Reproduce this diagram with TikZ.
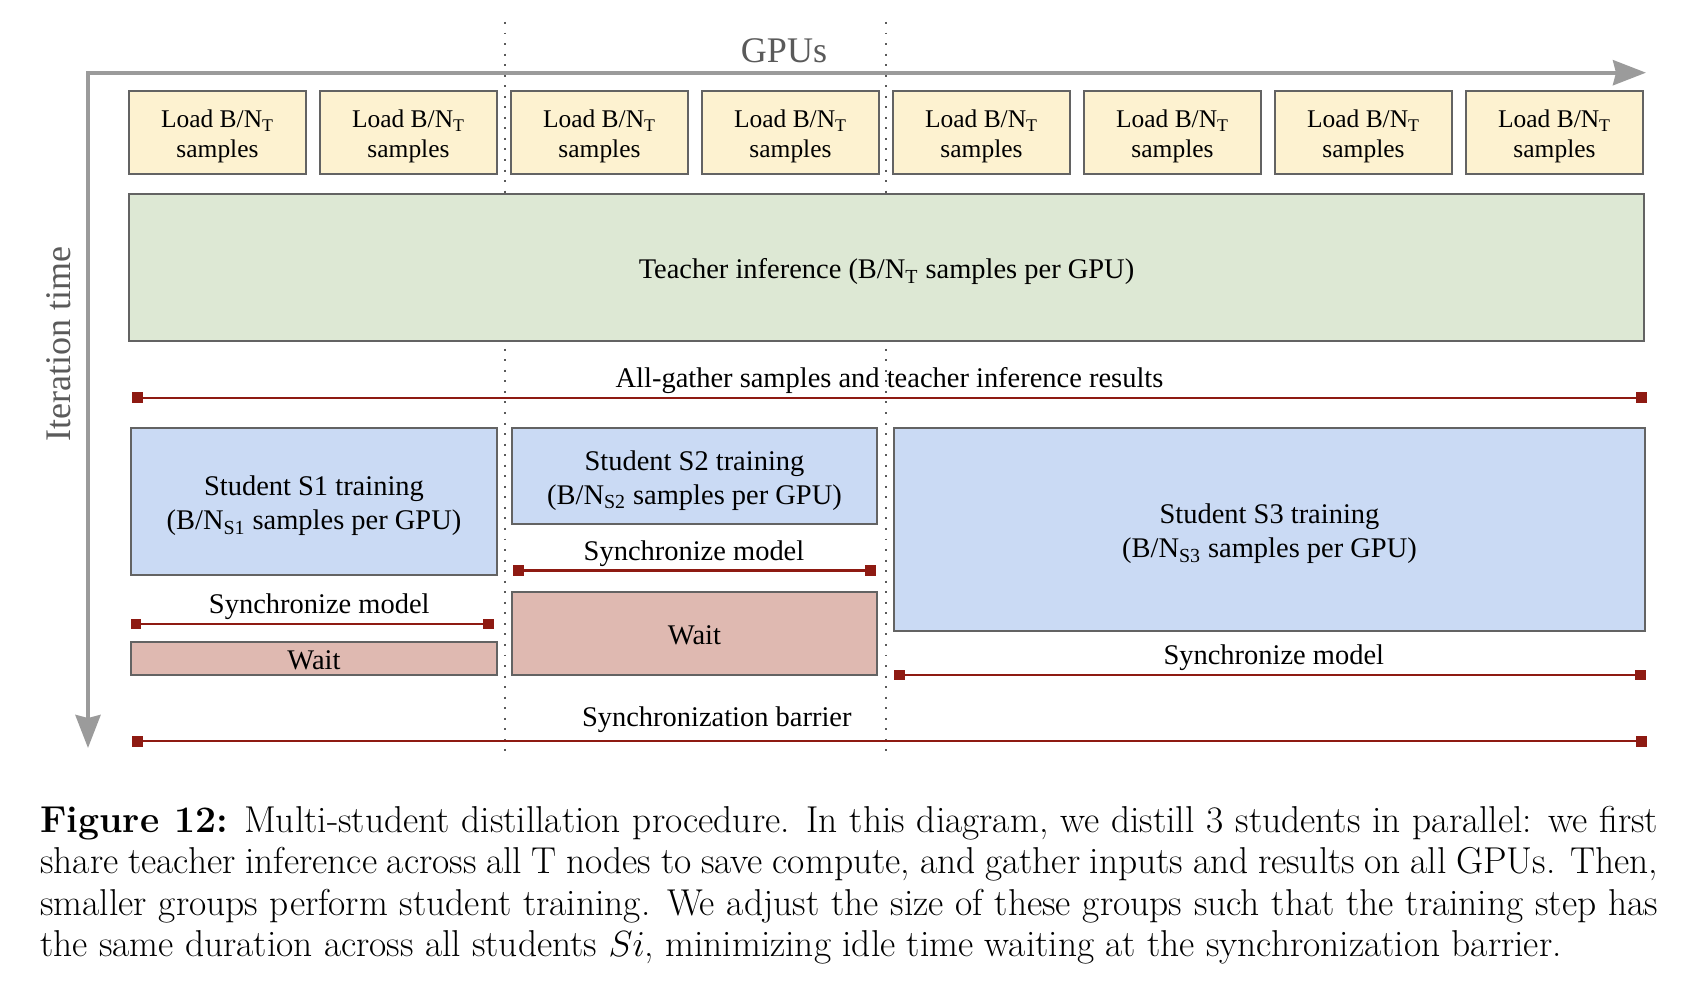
\documentclass[tikz,border=0pt]{standalone}
\usepackage{fontspec}
\newfontfamily\diagfont{Liberation Serif}
\usetikzlibrary{arrows.meta,positioning}

\definecolor{loadfill}{HTML}{FDF2D0}
\definecolor{teacherfill}{HTML}{DDE8D4}
\definecolor{studentfill}{HTML}{CADAF4}
\definecolor{waitfill}{HTML}{DFB9B1}
\definecolor{syncred}{HTML}{8E1A12}
\definecolor{boxline}{HTML}{636363}
\definecolor{axisgray}{HTML}{9B9B9B}
\definecolor{axistext}{HTML}{5A5A5A}

% pushes box texts a little down, as in the original
\newcommand{\boxstrut}{\rule{0pt}{1em}}

\begin{document}
\begin{tikzpicture}[x=0.02cm,y=-0.02cm,
  every node/.style={font=\diagfont\fontsize{16.2}{19.5}\selectfont},
  box/.style={draw=boxline,line width=0.8pt,inner sep=0pt,align=center},
  loadbox/.style={box,fill=loadfill,minimum width=3.54cm,minimum height=1.66cm,
    font=\diagfont\fontsize{14.5}{17}\selectfont},
  teacherbox/.style={box,fill=teacherfill},
  studentbox/.style={box,fill=studentfill},
  waitbox/.style={box,fill=waitfill},
  syncline/.style={draw=syncred,line width=1.5pt,
    {Square[length=0.22cm,width=0.22cm]}-{Square[length=0.22cm,width=0.22cm]}},
  synclabel/.style={above=1.5pt,inner sep=0pt},
  axisline/.style={draw=axisgray,line width=2.3pt,line join=miter,
    {Stealth[length=0.66cm,width=0.5cm,inset=0.06cm]}-{Stealth[length=0.66cm,width=0.5cm,inset=0.06cm]}},
  axislabel/.style={text=axistext,font=\diagfont\fontsize{20.5}{24}\selectfont},
  gpusep/.style={draw=axistext,line width=1.1pt,dash pattern=on 1.1pt off 4.9pt},
  captext/.style={inner sep=0pt,text width=32.36cm,align=justify,
    font=\rmfamily\fontsize{21.3}{23.5}\selectfont}]

  \useasboundingbox (0,0) rectangle (1688,986);

  % GPU group separators
  \coordinate (sep1-top) at (505,22);
  \coordinate (sep1-bot) at (505,755);
  \coordinate (sep2-top) at (886,22);
  \coordinate (sep2-bot) at (886,755);
  \draw[gpusep] (sep1-top) -- (sep1-bot);
  \draw[gpusep] (sep2-top) -- (sep2-bot);

  % axes
  \coordinate (origin) at (88,72.7);
  \coordinate (gpu-end) at (1646,72.7);
  \coordinate (time-end) at (88,748);
  \draw[axisline] (gpu-end) -- (origin) -- (time-end);
  \node[axislabel] (gpus) at (784,51) {GPUs};
  \node[axislabel,rotate=90] (itime) at (59,344) {Iteration time};

  % loading
  \foreach \i in {1,...,8}
    \node[loadbox] (load\i) at ({217.5+191*(\i-1)},132.5) {\boxstrut Load B/N\textsubscript{T}\\samples};

  % teacher
  \node[teacherbox,minimum width=30.3cm,minimum height=2.94cm] (teacher) at (886.5,267.5)
    {\boxstrut Teacher inference (B/N\textsubscript{T} samples per GPU)};

  \coordinate (ag-l) at (132,398);
  \coordinate (ag-r) at (1647,398);
  \draw[syncline] (ag-l) -- node[synclabel] (ag-txt) {All-gather samples and teacher inference results} (ag-r);

  % students
  \node[studentbox,minimum width=7.32cm,minimum height=2.94cm] (s1) at (314,501.5)
    {\boxstrut Student S1 training\\(B/N\textsubscript{S1} samples per GPU)};
  \node[studentbox,minimum width=7.3cm,minimum height=1.92cm] (s2) at (694.5,476)
    {\boxstrut Student S2 training\\(B/N\textsubscript{S2} samples per GPU)};
  \node[studentbox,minimum width=15.02cm,minimum height=4.06cm] (s3) at (1269.5,529.5)
    {\boxstrut Student S3 training\\(B/N\textsubscript{S3} samples per GPU)};

  \coordinate (sync1-l) at (130.5,624);
  \coordinate (sync1-r) at (493.5,624);
  \draw[syncline] (sync1-l) -- node[synclabel,pos=0.52] (sync1-txt) {Synchronize model} (sync1-r);
  \coordinate (sync2-l) at (512.5,570.5);
  \coordinate (sync2-r) at (875.5,570.5);
  \draw[syncline] (sync2-l) -- node[synclabel] (sync2-txt) {Synchronize model} (sync2-r);
  \coordinate (sync3-l) at (894,675);
  \coordinate (sync3-r) at (1646,675);
  \draw[syncline] (sync3-l) -- node[synclabel,pos=0.505] (sync3-txt) {Synchronize model} (sync3-r);

  % waiting
  \node[waitbox,minimum width=7.32cm,minimum height=0.66cm] (wait1) at (314,658.5) {\rule{0pt}{0.8em}Wait};
  \node[waitbox,minimum width=7.3cm,minimum height=1.66cm] (wait2) at (694.5,633.5) {\rule{0pt}{0.8em}Wait};

  \coordinate (bar-l) at (132,741);
  \coordinate (bar-r) at (1647,741);
  \draw[syncline] (bar-l) -- node[synclabel,above=4pt,pos=0.386] (bar-txt) {Synchronization barrier} (bar-r);

  % caption
  \node[captext,anchor=north west] (caption) at (40,806)
    {\textbf{Figure 12:} Multi-student distillation procedure. In this diagram, we distill 3 students in parallel: we first\linebreak
    share teacher inference across all T nodes to save compute, and gather inputs and results on all GPUs. Then,\linebreak
    smaller groups perform student training. We adjust the size of these groups such that the training step has\linebreak
    the same duration across all students $Si$, minimizing idle time waiting at the synchronization barrier.};
\end{tikzpicture}
\end{document}
